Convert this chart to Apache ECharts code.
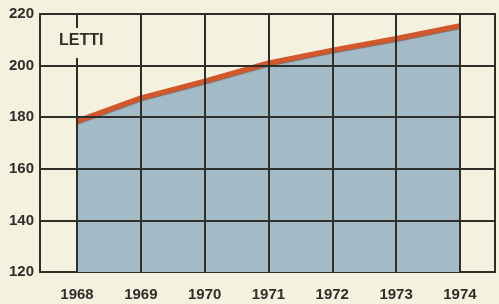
<!DOCTYPE html>
<html>
<head>
<meta charset="utf-8">
<script src="https://cdn.jsdelivr.net/npm/echarts@6/dist/echarts.min.js"></script>
<style>
html, body { margin: 0; padding: 0; background: #f4f2df; }
#main { width: 499px; height: 304px; }
</style>
</head>
<body>
<div id="main"></div>
<script>
// anni e posti letto (letti)
var years = [1968, 1969, 1970, 1971, 1972, 1973, 1974];
var letti = [178.5, 187.5, 194, 201, 206, 210.5, 215.5];
var yTicks = [140, 160, 180, 200];
var titolo = 'LETTI';

var ink = '#2e2e2a';

function pairs(xs, ys) {
    var out = [];
    for (var i = 0; i < xs.length; i++) {
        out.push([xs[i], ys[i]]);
    }
    return out;
}

var gridLines = [];
for (var i = 0; i < years.length; i++) {
    gridLines.push({ xAxis: years[i] });
}
for (var j = 0; j < yTicks.length; j++) {
    gridLines.push({ yAxis: yTicks[j] });
}

var chart = echarts.init(document.getElementById('main'));
chart.setOption({
    backgroundColor: '#f4f2df',
    animation: false,
    grid: {
        left: 40, right: 4, top: 14, bottom: 32,
        show: true,
        borderColor: ink,
        borderWidth: 2,
        backgroundColor: 'transparent'
    },
    xAxis: {
        type: 'value',
        min: 1967.42,
        max: 1974.55,
        axisLine: { show: false },
        axisTick: { show: false },
        splitLine: { show: false },
        axisLabel: {
            customValues: years,
            formatter: function (v) { return String(v); },
            margin: 15,
            color: ink,
            fontFamily: 'Liberation Sans',
            fontWeight: 'bold',
            fontSize: 15
        }
    },
    yAxis: {
        type: 'value',
        min: 120,
        max: 220,
        interval: 20,
        axisLine: { show: false },
        axisTick: { show: false },
        splitLine: { show: false },
        axisLabel: {
            margin: 6,
            color: ink,
            fontFamily: 'Liberation Sans',
            fontWeight: 'bold',
            fontSize: 15
        }
    },
    graphic: [{
        type: 'text',
        left: 57,
        top: 28,
        z: 100,
        style: {
            text: titolo,
            fill: ink,
            fontFamily: 'Liberation Sans',
            fontWeight: 'bold',
            fontSize: 16,
            backgroundColor: '#f4f2df',
            padding: [5, 2, 9, 2]
        }
    }],
    series: [{
        // riempimento
        type: 'line',
        z: 1,
        data: pairs(years, letti),
        symbol: 'none',
        lineStyle: { width: 0 },
        areaStyle: { color: '#a2bbc6', opacity: 1, origin: 'start' }
    }, {
        // reticolo
        type: 'line',
        z: 2,
        data: [],
        markLine: {
            silent: true,
            symbol: 'none',
            label: { show: false },
            lineStyle: { color: ink, width: 2, type: 'solid' },
            data: gridLines
        }
    }, {
        // linea arancione
        type: 'line',
        z: 3,
        data: pairs(years, letti),
        symbol: 'none',
        lineStyle: {
            color: '#d2572a',
            width: 5,
            shadowColor: 'rgba(120,40,20,0.6)',
            shadowBlur: 1,
            shadowOffsetY: 1
        }
    }]
});
</script>
</body>
</html>
